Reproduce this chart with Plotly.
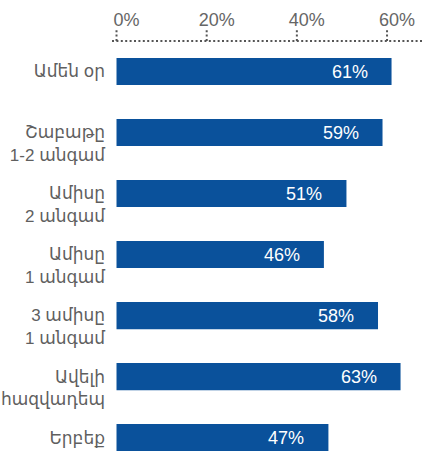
import plotly.graph_objects as go

categories = ["Ամեն օր", "Շաբաթը<br>1-2 անգամ", "Ամիսը<br>2 անգամ", "Ամիսը<br>1 անգամ",
              "3 ամիսը<br>1 անգամ", "Ավելի<br>հազվադեպ", "Երբեք"]
values = [61, 59, 51, 46, 58, 63, 47]
tick_vals = [0, 20, 40, 60]
tick_text = ["0%", "20%", "40%", "60%"]

BAR = "#0A519B"
GRAY = "#5f5f5f"
FONT = "Arial, Liberation Sans, DejaVu Sans, sans-serif"

# first line of a wrapped label sits level with its bar (blank line above balances it)
y_ticktext = [("&nbsp;<br>" + c) if "<br>" in c else c for c in categories]

fig = go.Figure(go.Bar(
    x=values, y=categories, orientation="h",
    marker=dict(color=BAR, line=dict(width=0)),
    width=0.445, hoverinfo="skip",
))

for c, v in zip(categories, values):
    fig.add_annotation(x=v, y=c, text=f"{v}%", showarrow=False, xanchor="right",
                       xshift=-22, font=dict(family=FONT, size=18, color="white"))

# dotted axis line and dotted ticks
fig.add_shape(type="line", xref="paper", yref="paper", x0=0, x1=1, y0=1, y1=1,
              line=dict(color="#555555", width=2, dash="2px,2.4px"))
for t in tick_vals:
    fig.add_shape(type="line", xref="x", yref="paper", ysizemode="pixel", yanchor=1,
                  x0=t, x1=t, y0=0, y1=13,
                  line=dict(color="#555555", width=2, dash="2px,2.4px"))

fig.update_layout(
    width=425, height=451,
    margin=dict(l=112, r=1, t=41, b=0, autoexpand=False),
    paper_bgcolor="white", plot_bgcolor="white",
    showlegend=False,
    font=dict(family=FONT, color=GRAY),
    xaxis=dict(side="top", range=[-1, 68.2], tickvals=tick_vals, ticktext=tick_text,
               showgrid=False, zeroline=False, showline=False, automargin=False,
               ticks="outside", ticklen=5, tickcolor="rgba(0,0,0,0)",
               ticklabelshift=10, ticklabelstandoff=2,
               tickfont=dict(family=FONT, size=18, color="#666666"), fixedrange=True),
    yaxis=dict(type="category", range=[6.22, -0.5], showgrid=False, zeroline=False,
               showline=False, ticks="", ticklabelstandoff=6, automargin=False,
               tickvals=categories, ticktext=y_ticktext,
               tickfont=dict(family=FONT, size=17, color=GRAY), fixedrange=True),
)

fig.write_html("out.html", config={"displayModeBar": False},
               post_script="document.body.style.margin='0';")
